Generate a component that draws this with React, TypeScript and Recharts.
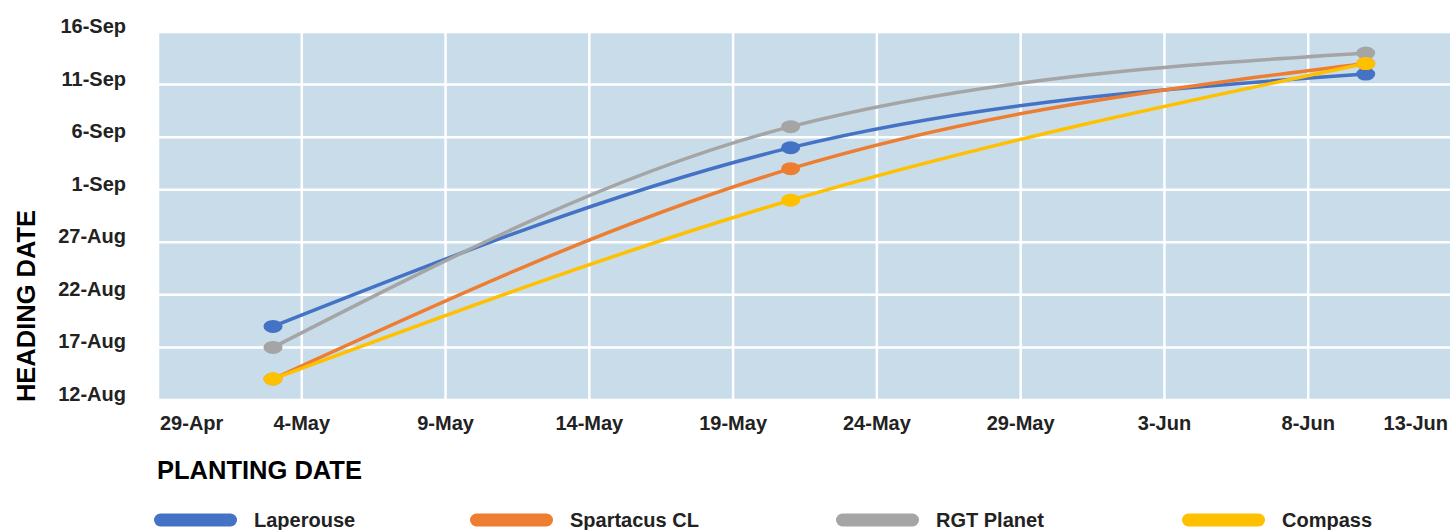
import { LineChart, Line, XAxis, YAxis, CartesianGrid } from "recharts";

const MONTHS = ["Jan", "Feb", "Mar", "Apr", "May", "Jun", "Jul", "Aug", "Sep", "Oct", "Nov", "Dec"];

// planting dates (x) and heading dates (y) per variety
const plantingDates = ["3-May", "21-May", "10-Jun"];
const laperouse = ["19-Aug", "5-Sep", "12-Sep"];
const spartacus = ["14-Aug", "3-Sep", "13-Sep"];
const rgtPlanet = ["17-Aug", "7-Sep", "14-Sep"];
const compass = ["14-Aug", "31-Aug", "13-Sep"];

const xTickLabels = ["29-Apr", "4-May", "9-May", "14-May", "19-May", "24-May", "29-May", "3-Jun", "8-Jun", "13-Jun"];
const yTickLabels = ["12-Aug", "17-Aug", "22-Aug", "27-Aug", "1-Sep", "6-Sep", "11-Sep", "16-Sep"];

const seriesNames = ["Laperouse", "Spartacus CL", "RGT Planet", "Compass"];
const seriesKeys = ["laperouse", "spartacus", "rgtPlanet", "compass"];
const seriesColors = ["#4472C4", "#ED7D31", "#A5A5A5", "#FFC000"];

const toDay = (s: string) => {
  const [d, m] = s.split("-");
  return Date.UTC(2021, MONTHS.indexOf(m), Number(d)) / 86400000;
};

const data = plantingDates.map((p, i) => ({
  x: toDay(p),
  laperouse: toDay(laperouse[i]),
  spartacus: toDay(spartacus[i]),
  rgtPlanet: toDay(rgtPlanet[i]),
  compass: toDay(compass[i]),
}));

const xTicks = xTickLabels.map(toDay);
const yTicks = yTickLabels.map(toDay);

const FONT = "'Liberation Sans', Arial, sans-serif";
const legendLeft = [154, 470, 836, 1182];

function XTick(props: any) {
  const { x, y, payload } = props;
  const i = xTicks.indexOf(payload.value);
  let anchor: "start" | "middle" | "end" = "middle";
  let tx = x;
  if (i === 0) {
    anchor = "start";
    tx = x + 2;
  } else if (i === xTicks.length - 1) {
    anchor = "end";
    tx = 1448;
  }
  return (
    <text x={tx} y={y + 30} textAnchor={anchor} fontFamily={FONT} fontWeight="bold" fontSize={20} fill="#222">
      {xTickLabels[i]}
    </text>
  );
}

function YTick(props: any) {
  const { x, y, payload } = props;
  const i = yTicks.indexOf(payload.value);
  return (
    <text x={x - 32} y={y + 1} textAnchor="end" fontFamily={FONT} fontWeight="bold" fontSize={20} fill="#222">
      {yTickLabels[i]}
    </text>
  );
}

function makeDot(color: string) {
  return (props: any) => {
    const { cx, cy, index } = props;
    return <ellipse key={index} cx={cx} cy={cy} rx={9.5} ry={6.5} fill={color} />;
  };
}

export default function App() {
  return (
    <div style={{ position: "absolute", left: 0, top: 0, width: 1450, height: 530, overflow: "hidden", background: "#fff" }}>
      <LineChart width={1452} height={530} data={data} margin={{ top: 32, right: 0, left: 0, bottom: 90 }}>
        <CartesianGrid fill="#C8DCEA" stroke="#fff" strokeWidth={2.5} fillOpacity={1} />
        <XAxis
          dataKey="x"
          type="number"
          domain={[xTicks[0], xTicks[xTicks.length - 1]]}
          ticks={xTicks}
          interval={0}
          axisLine={false}
          tickLine={false}
          tickSize={0}
          tickMargin={0}
          height={40}
          tick={<XTick />}
        />
        <YAxis
          type="number"
          domain={[yTicks[0], yTicks[yTicks.length - 1]]}
          ticks={yTicks}
          interval={0}
          axisLine={false}
          tickLine={false}
          tickSize={0}
          tickMargin={0}
          width={158}
          tick={<YTick />}
        />
        {seriesKeys.map((k, i) => (
          <Line
            key={k}
            type="monotone"
            dataKey={k}
            name={seriesNames[i]}
            stroke={seriesColors[i]}
            strokeWidth={3.5}
            dot={makeDot(seriesColors[i])}
            activeDot={false}
            isAnimationActive={false}
          />
        ))}
      </LineChart>
      <svg width={1450} height={530} style={{ position: "absolute", left: 0, top: 0, pointerEvents: "none" }}>
        <text
          transform="translate(35 306) rotate(-90)"
          textAnchor="middle"
          fontFamily={FONT}
          fontWeight="bold"
          fontSize={25.5}
          fill="#000"
        >
          HEADING DATE
        </text>
        <text x={157} y={479} fontFamily={FONT} fontWeight="bold" fontSize={25.5} fill="#000">
          PLANTING DATE
        </text>
        {seriesNames.map((n, i) => (
          <g key={n}>
            <line
              x1={legendLeft[i] + 6.5}
              x2={legendLeft[i] + 83 - 6.5}
              y1={520}
              y2={520}
              stroke={seriesColors[i]}
              strokeWidth={13}
              strokeLinecap="round"
            />
            <text x={legendLeft[i] + 100} y={527} fontFamily={FONT} fontWeight="bold" fontSize={20} fill="#222">
              {n}
            </text>
          </g>
        ))}
      </svg>
    </div>
  );
}
